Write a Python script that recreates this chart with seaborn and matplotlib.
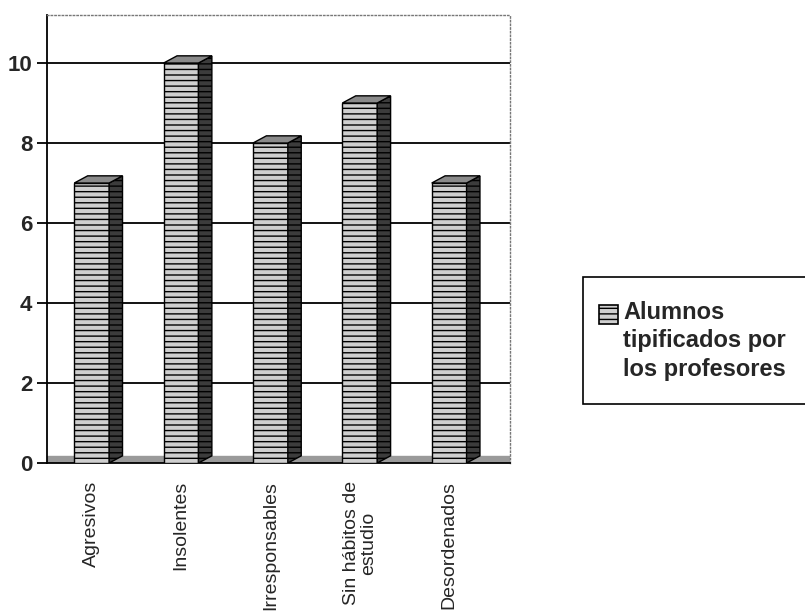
import matplotlib
matplotlib.use("Agg")
import matplotlib.pyplot as plt
from matplotlib.patches import Polygon, Rectangle
from matplotlib.legend_handler import HandlerBase
import seaborn as sns
import pandas as pd

# datos de la grafica
categorias = ["Agresivos", "Insolentes", "Irresponsables", "Sin hábitos de\nestudio", "Desordenados"]
valores = [7, 10, 8, 9, 7]
serie = "Alumnos\ntipificados por\nlos profesores"
yticks = [0, 2, 4, 6, 8, 10]

sns.set_style("white")
plt.rcParams["font.family"] = ["Liberation Sans", "DejaVu Sans"]
plt.rcParams["hatch.linewidth"] = 1.0
plt.rcParams["hatch.color"] = "#222222"


# cuadrito de la leyenda alineado con la primera linea del texto
class HandlerCuadro(HandlerBase):
    def create_artists(self, legend, orig_handle, xdescent, ydescent, width, height, fontsize, trans):
        lado = 0.8 * fontsize
        r = Rectangle((-xdescent - 0.3 * fontsize, height - ydescent - lado + 0.7 * fontsize), lado, lado,
                      facecolor="#cfcfcf", edgecolor="black", lw=1.2, hatch="---", transform=trans)
        return [r]


df = pd.DataFrame({"categoria": categorias, "valor": valores})

fig = plt.figure(figsize=(8.05, 6.14), dpi=100)
ax = fig.add_axes([0.0584, 0.2459, 0.575, 0.7296])

# piso gris
ax.axhspan(0, 0.18, color="#9a9a9a", zorder=0)

# lineas de division
for t in yticks[1:]:
    ax.axhline(t, color="black", lw=1.3, zorder=1)

sns.barplot(data=df, x="categoria", y="valor", color="#cfcfcf", width=0.39,
            edgecolor="black", linewidth=1.0, hatch="---", label=serie,
            ax=ax, zorder=3, saturation=1)

# caras laterales y superiores (efecto 3D)
dx, dy = 0.15, 0.18
for p in ax.containers[0]:
    x0, w, h = p.get_x(), p.get_width(), p.get_height()
    lado = Polygon([(x0 + w, 0), (x0 + w + dx, dy), (x0 + w + dx, h + dy), (x0 + w, h)],
                   closed=True, facecolor="#3c3c3c", edgecolor="black", lw=1.0,
                   hatch="---", zorder=3)
    tapa = Polygon([(x0, h), (x0 + w, h), (x0 + w + dx, h + dy), (x0 + dx, h + dy)],
                   closed=True, facecolor="#8a8a8a", edgecolor="black", lw=1.0, zorder=3)
    ax.add_patch(lado)
    ax.add_patch(tapa)

ax.set_xlim(-0.5, 4.68)
ax.set_ylim(0, 11.2)
ax.set_yticks(yticks)
ax.set_yticklabels([str(t) for t in yticks], fontsize=16, fontweight="bold")
ax.set_xticks(range(len(categorias)))
ax.set_xticklabels(categorias, rotation=90, fontsize=14, linespacing=1.0)
ax.set_xticks([i - 0.5 for i in range(len(categorias) + 1)], minor=True)
ax.tick_params(axis="x", which="major", length=0, pad=13)
ax.tick_params(axis="x", which="minor", length=8, width=1.3, direction="out", color="black")
ax.tick_params(axis="y", length=7, width=1.3, direction="out", color="black", left=True)
ax.set_xlabel("")
ax.set_ylabel("")

for s in ["left", "bottom"]:
    ax.spines[s].set_color("black")
    ax.spines[s].set_linewidth(1.3)
for s in ["top", "right"]:
    ax.spines[s].set_color("#777777")
    ax.spines[s].set_linestyle(":")
    ax.spines[s].set_linewidth(1.0)

handles, labels = ax.get_legend_handles_labels()
if ax.get_legend() is not None:
    ax.get_legend().remove()
leg = fig.legend(handles[:1], labels[:1], loc="center left", bbox_to_anchor=(0.724, 0.445),
                 frameon=True, fancybox=False, edgecolor="black", framealpha=1,
                 prop={"size": 17, "weight": "bold"}, handlelength=0.7, handleheight=2.4,
                 handletextpad=0.0, borderpad=1.0, borderaxespad=0,
                 handler_map={handles[0]: HandlerCuadro()})
leg.get_frame().set_linewidth(1.2)
leg.get_texts()[0].set_linespacing(1.3)

fig.savefig("out.png", dpi=100)
